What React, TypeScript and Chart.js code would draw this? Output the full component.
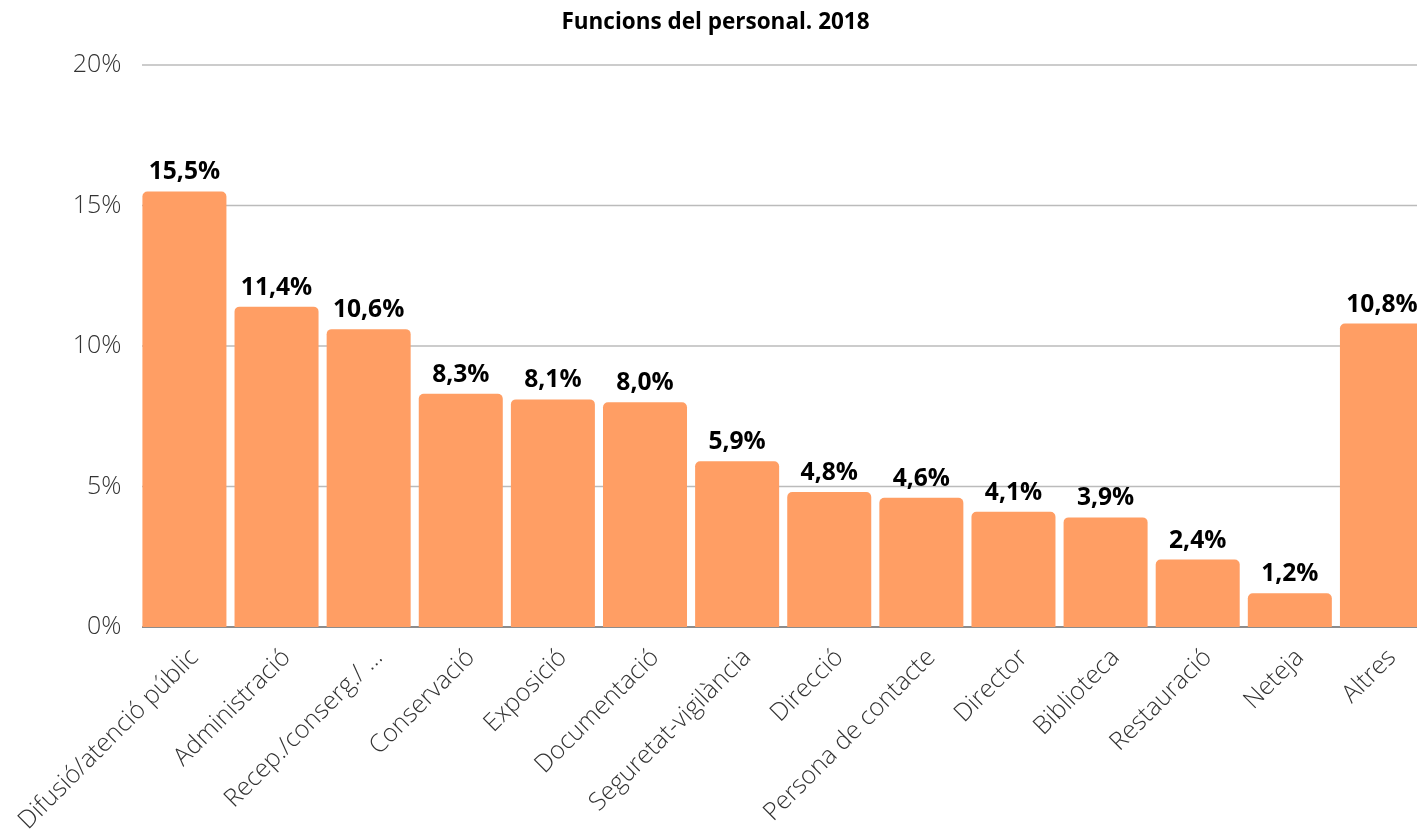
import React, { useEffect, useRef } from "react";
import { Chart, registerables } from "chart.js";

Chart.register(...registerables);

const categories = [
  "Difusió/atenció públic",
  "Administració",
  "Recep./conserg./ …",
  "Conservació",
  "Exposició",
  "Documentació",
  "Seguretat-vigilància",
  "Direcció",
  "Persona de contacte",
  "Director",
  "Biblioteca",
  "Restauració",
  "Neteja",
  "Altres",
];

const values = [15.5, 11.4, 10.6, 8.3, 8.1, 8.0, 5.9, 4.8, 4.6, 4.1, 3.9, 2.4, 1.2, 10.8];

const yTicks = [0, 5, 10, 15, 20];

const titleText = "Funcions del personal. 2018";

const fmt = (v: number) => v.toFixed(1).replace(".", ",") + "%";

const GRID_LEFT = 142;

const gridLines = {
  id: "gridLines",
  beforeDatasetsDraw(chart: any) {
    const ctx = chart.ctx;
    const y = chart.scales.y;
    const area = chart.chartArea;
    ctx.save();
    ctx.lineWidth = 1.5;
    yTicks.forEach((v) => {
      const py = y.getPixelForValue(v);
      ctx.strokeStyle = v === 0 ? "#666" : "#bbb";
      ctx.beginPath();
      ctx.moveTo(GRID_LEFT, py);
      ctx.lineTo(area.right + 10, py);
      ctx.stroke();
    });
    ctx.restore();
  },
};

const valueLabels = {
  id: "valueLabels",
  afterDatasetsDraw(chart: any) {
    const ctx = chart.ctx;
    const meta = chart.getDatasetMeta(0);
    ctx.save();
    ctx.font = "bold 24.6px 'Open Sans'";
    ctx.fillStyle = "#000";
    ctx.textAlign = "center";
    ctx.textBaseline = "alphabetic";
    meta.data.forEach((el: any, i: number) => {
      ctx.fillText(fmt(values[i]), el.x, el.y - 12);
    });
    ctx.restore();
  },
};

export default function App() {
  const ref = useRef<HTMLCanvasElement | null>(null);
  useEffect(() => {
    if (!ref.current) return;
    const chart = new Chart(ref.current, {
      type: "bar",
      data: {
        labels: categories,
        datasets: [
          {
            data: values,
            backgroundColor: "#FF9E64",
            borderRadius: { topLeft: 5, topRight: 5, bottomLeft: 0, bottomRight: 0 },
            borderSkipped: "bottom",
            categoryPercentage: 1,
            barPercentage: 0.912,
          },
        ],
      },
      options: {
        responsive: false,
        animation: false,
        devicePixelRatio: 1,
        layout: { padding: { left: 3, right: 3, top: 0, bottom: 0 } },
        plugins: {
          legend: { display: false },
          tooltip: { enabled: false },
          title: {
            display: true,
            text: titleText,
            color: "#000",
            font: { family: "'Open Sans'", size: 22.5, weight: "bold" },
            padding: { top: 9, bottom: 29 },
          },
        },
        scales: {
          x: {
            grid: { display: false },
            border: { display: false },
            ticks: {
              minRotation: 45,
              maxRotation: 45,
              autoSkip: false,
              padding: 8,
              labelOffset: 10,
              color: "#333",
              font: { family: "'Open Sans'", size: 25, weight: "300" },
            },
            afterFit(scale: any) {
              scale.height = 208;
            },
          },
          y: {
            min: 0,
            max: 20,
            afterBuildTicks(scale: any) {
              scale.ticks = yTicks.map((v) => ({ value: v }));
            },
            grid: { display: false, drawTicks: false },
            border: { display: false },
            ticks: {
              padding: 17,
              color: "#333",
              font: { family: "'Open Sans'", size: 25, weight: "300" },
              callback: (v: any) => v + "%",
            },
            afterFit(scale: any) {
              scale.width = 135;
            },
          },
        },
      },
      plugins: [gridLines, valueLabels],
    });
    return () => chart.destroy();
  }, []);
  return (
    <div
      style={{
        position: "fixed",
        left: 0,
        top: 0,
        width: 1417,
        height: 835,
        overflow: "hidden",
        background: "#fff",
      }}
    >
      <canvas ref={ref} width={1431} height={835} style={{ display: "block" }} />
    </div>
  );
}
